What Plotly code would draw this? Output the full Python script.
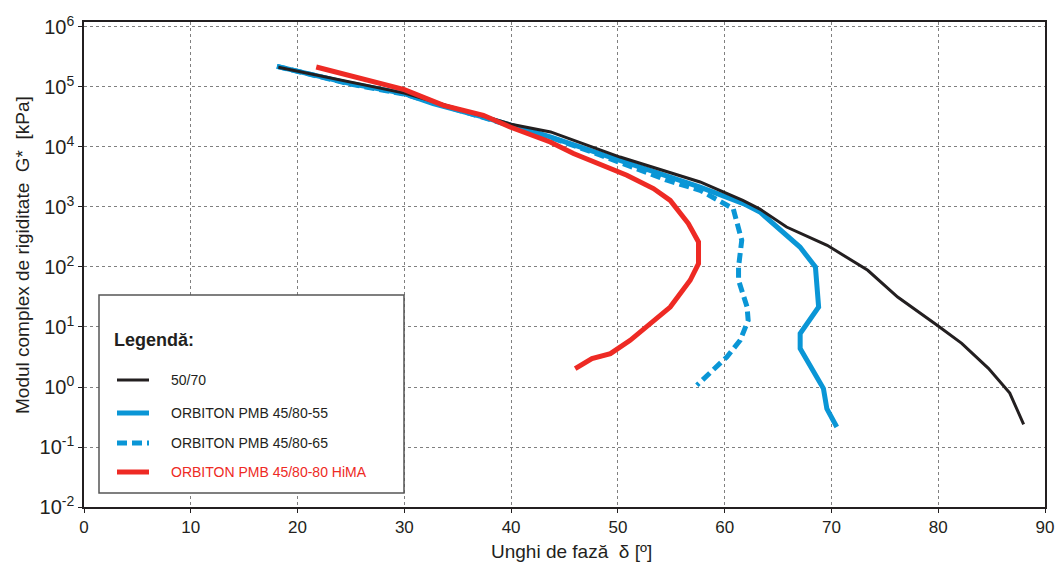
import plotly.graph_objects as go

# Phase angle (deg) and complex modulus G* (kPa) per binder
d_5070 = [18.2, 30.0, 40.0, 43.7, 50.2, 57.7, 61.7, 63.3, 65.8, 69.6, 73.4, 76.2, 79.9, 82.2, 84.7, 86.7, 88.0]
g_5070 = [2.13e5, 7.9e4, 2.4e4, 1.78e4, 6.8e3, 2610, 1290, 924, 464, 230, 88, 31.6, 10.7, 5.35, 2.05, 0.79, 0.239]

d_55 = [18.07, 20.26, 24.94, 30.0, 32.7, 37.4, 43.66, 48.3, 57.7, 61.76, 63.3, 67.05, 68.5, 68.8, 67.07, 67.07, 69.25, 69.57, 70.5]
g_55 = [2.21e5, 1.78e5, 1.14e5, 7.76e4, 5.29e4, 3.16e4, 1.47e4, 7.76e3, 2150, 1140, 826, 215, 100, 21.5, 7.76, 4.37, 0.94, 0.436, 0.215]

d_65 = [18.07, 24.94, 30.0, 37.4, 43.66, 48.3, 54.6, 57.7, 60.8, 61.6, 61.3, 61.3, 62.1, 62.2, 61.45, 60.2, 57.4]
g_65 = [2.2e5, 1.12e5, 7.6e4, 3.1e4, 1.45e4, 7.4e3, 2790, 1900, 940, 279, 100, 60, 21.5, 12.9, 6.0, 3.16, 1.07]

d_80 = [21.75, 30.0, 33.67, 37.4, 39.9, 43.66, 45.84, 50.84, 53.33, 54.9, 56.6, 57.55, 57.55, 56.77, 54.9, 52.7, 51.15, 49.3, 47.57, 46.0]
g_80 = [2.15e5, 9.05e4, 4.95e4, 3.38e4, 2.15e4, 1.21e4, 7.76e3, 3.38e3, 2030, 1290, 529, 261, 114, 60, 21.5, 10, 6.0, 3.6, 2.97, 2.03]

series_names = ["50/70", "ORBITON PMB 45/80-55", "ORBITON PMB 45/80-65", "ORBITON PMB 45/80-80 HiMA"]

x_ticks = [0, 10, 20, 30, 40, 50, 60, 70, 80, 90]
y_exps = [-2, -1, 0, 1, 2, 3, 4, 5, 6]

x_title = "Unghi de fază  δ [º]"
y_title = "Modul complex de rigiditate  G*  [kPa]"

BLACK = "#231F20"
BLUE = "#0A96D6"
RED = "#EE2A24"
FONT = "Liberation Sans, Arial, sans-serif"

styles = [
    dict(color=BLACK, width=3, dash="solid"),
    dict(color=BLUE, width=5, dash="solid"),
    dict(color=BLUE, width=5, dash="10px,5px"),
    dict(color=RED, width=5, dash="solid"),
]
data = [(d_5070, g_5070), (d_55, g_55), (d_65, g_65), (d_80, g_80)]

fig = go.Figure()
# draw order: blue dashed and solid under black, red on top
for idx in [2, 1, 0, 3]:
    xs, ys = data[idx]
    fig.add_trace(go.Scatter(x=xs, y=ys, mode="lines", name=series_names[idx],
                             line=styles[idx], showlegend=False))

fig.update_xaxes(range=[0, 90], tickvals=x_ticks, ticktext=[str(v) for v in x_ticks],
                 showgrid=True, gridcolor="#808080", griddash="dot", gridwidth=1,
                 showline=True, linecolor=BLACK, linewidth=1.5, mirror=True,
                 ticks="outside", ticklen=4, tickcolor=BLACK, zeroline=False, automargin=False,
                 tickfont=dict(family=FONT, size=17, color=BLACK))

fig.update_yaxes(type="log", range=[-2, 6.083],
                 tickvals=[10 ** e for e in y_exps],
                 ticktext=["10<sup>%d</sup>" % e for e in y_exps],
                 showgrid=True, gridcolor="#808080", griddash="dot", gridwidth=1,
                 showline=True, linecolor=BLACK, linewidth=1.5, mirror=True,
                 ticks="outside", ticklen=4, tickcolor=BLACK, zeroline=False, automargin=False,
                 tickfont=dict(family=FONT, size=20, color=BLACK))

# pixel helpers for paper-positioned decorations
L, R, T, B = 84, 1045, 22, 507
def px(x):
    return (x - L) / (R - L)
def py(y):
    return (B - y) / (B - T)

annotations = [
    dict(text=x_title, xref="paper", yref="paper", x=px(571), y=py(551),
         xanchor="center", yanchor="middle", showarrow=False,
         font=dict(family=FONT, size=19, color=BLACK)),
    dict(text=y_title, xref="paper", yref="paper", x=px(23), y=py(255), textangle=-90,
         xanchor="center", yanchor="middle", showarrow=False,
         font=dict(family=FONT, size=19, color=BLACK)),
]

# legend box
shapes = [dict(type="rect", xref="paper", yref="paper", x0=px(99), x1=px(404), y0=py(493), y1=py(295),
               line=dict(color="#555", width=1.5), fillcolor="white", layer="above")]
annotations.append(dict(text="<b>Legendă:</b>", xref="paper", yref="paper", x=px(112), y=py(340),
                        xanchor="left", yanchor="middle", showarrow=False,
                        font=dict(family=FONT, size=18, color=BLACK)))
rows_y = [380, 413, 443, 472]
text_colors = [BLACK, BLACK, BLACK, RED]
for i, ry in enumerate(rows_y):
    st = styles[i]
    shapes.append(dict(type="line", xref="paper", yref="paper", x0=px(117), x1=px(149), y0=py(ry), y1=py(ry),
                       line=dict(color=st["color"], width=st["width"], dash=st["dash"]), layer="above"))
    annotations.append(dict(text=series_names[i], xref="paper", yref="paper", x=px(169), y=py(ry),
                            xanchor="left", yanchor="middle", showarrow=False,
                            font=dict(family=FONT, size=14, color=text_colors[i])))

fig.update_layout(width=1057, height=567, margin=dict(l=L, r=1057 - R, t=T, b=567 - B),
                  plot_bgcolor="white", paper_bgcolor="white",
                  shapes=shapes, annotations=annotations)

fig.write_html("out.html")
